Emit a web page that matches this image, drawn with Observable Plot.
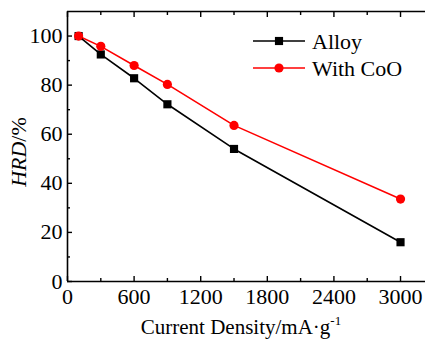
<!DOCTYPE html>
<html>
<head>
<meta charset="utf-8">
<script src="https://cdn.jsdelivr.net/npm/d3@7"></script>
<script src="https://cdn.jsdelivr.net/npm/@observablehq/plot@0.6"></script>
<style>
  html, body { margin: 0; padding: 0; background: #fff; }
  #chart { position: absolute; left: 0; top: 0; width: 425px; height: 340px; overflow: hidden; }
  #chart svg text { font-family: 'Liberation Serif', 'Times New Roman', serif !important; }
</style>
</head>
<body>
<div id="chart"></div>
<script>
const currentDensity = [100, 300, 600, 900, 1500, 3000];
const alloyHRD = [100, 92.5, 82.8, 72.2, 54, 16];
const cooHRD = [100, 95.8, 88, 80.3, 63.6, 33.6];
const seriesNames = ["Alloy", "With CoO"];
const seriesColors = ["#000000", "#ff0000"];
const seriesSymbols = ["square", "circle"];
const xMajorTicks = [0, 600, 1200, 1800, 2400, 3000];
const xMinorTicks = [300, 900, 1500, 2100, 2700];
const yMajorTicks = [0, 20, 40, 60, 80, 100];
const yMinorTicks = [10, 30, 50, 70, 90];
const xDomain = [0, 3225];
const yDomain = [0, 110];

const rows = [];
currentDensity.forEach((x, i) => {
  rows.push({x, y: alloyHRD[i], s: seriesNames[0]});
});
currentDensity.forEach((x, i) => {
  rows.push({x, y: cooHRD[i], s: seriesNames[1]});
});

const font = "'Liberation Serif', 'Times New Roman', serif";
const noLabel = () => "";

const plot = Plot.plot({
  width: 425,
  height: 340,
  marginLeft: 67,
  marginRight: 0,
  marginTop: 11,
  marginBottom: 59,
  style: "font-family: 'Liberation Serif', serif; font-size: 22px; color: black; background: white; overflow: visible;",
  x: {domain: xDomain},
  y: {domain: yDomain},
  color: {domain: seriesNames, range: seriesColors},
  symbol: {domain: seriesNames, range: seriesSymbols},
  marks: [
    Plot.ruleY([yDomain[0]], {stroke: "black", strokeWidth: 1.6}),
    Plot.ruleY([yDomain[1]], {stroke: "black", strokeWidth: 1.6}),
    Plot.ruleX([xDomain[0]], {stroke: "black", strokeWidth: 1.6}),
    Plot.axisX(xMajorTicks, {anchor: "bottom", tickSize: -5, tickPadding: 12, strokeWidth: 1.4, fontSize: 22, tickFormat: d => String(d), label: null}),
    Plot.axisX(xMinorTicks, {anchor: "bottom", tickSize: -3, strokeWidth: 1.4, tickFormat: noLabel, label: null}),
    Plot.axisX(xMajorTicks, {anchor: "top", tickSize: -5, strokeWidth: 1.4, tickFormat: noLabel, label: null}),
    Plot.axisX(xMinorTicks, {anchor: "top", tickSize: -3, strokeWidth: 1.4, tickFormat: noLabel, label: null}),
    Plot.axisY(yMajorTicks, {anchor: "left", tickSize: -5, tickPadding: 10, strokeWidth: 1.4, fontSize: 22, tickFormat: d => String(d), label: null}),
    Plot.axisY(yMinorTicks, {anchor: "left", tickSize: -3, strokeWidth: 1.4, tickFormat: noLabel, label: null}),
    Plot.line(rows, {x: "x", y: "y", z: "s", stroke: "s", strokeWidth: 1.6}),
    Plot.dot(rows, {x: "x", y: "y", symbol: "s", fill: "s", stroke: "none", r: 4.6})
  ]
});

document.getElementById("chart").appendChild(plot);

const svg = d3.select(plot);

// x-axis title with superscript
const xt = svg.append("text")
  .attr("x", 241).attr("y", 334)
  .attr("text-anchor", "middle")
  .attr("font-size", 21).attr("fill", "black");
xt.append("tspan").text("Current Density/mA\u00B7g");
xt.append("tspan").attr("font-size", 13).attr("dy", -9).text("-1");

// y-axis title rotated
const yt = svg.append("text")
  .attr("transform", "translate(26,152) rotate(-90)")
  .attr("text-anchor", "middle")
  .attr("font-size", 22).attr("fill", "black");
yt.append("tspan").attr("font-style", "italic").text("HRD");
yt.append("tspan").text("/%");

// legend
const legendY = [41, 68];
seriesNames.forEach((name, i) => {
  const g = svg.append("g");
  g.append("line").attr("x1", 253).attr("x2", 305).attr("y1", legendY[i]).attr("y2", legendY[i])
    .attr("stroke", seriesColors[i]).attr("stroke-width", 1.6);
  g.append("path")
    .attr("transform", `translate(279,${legendY[i]})`)
    .attr("d", d3.symbol(seriesSymbols[i] === "square" ? d3.symbolSquare : d3.symbolCircle, Math.PI * 4.6 * 4.6)())
    .attr("fill", seriesColors[i]);
  g.append("text").attr("x", 312).attr("y", legendY[i]).attr("dy", "0.35em")
    .attr("text-anchor", "start")
    .attr("font-size", 22).attr("fill", "black").text(name);
});
</script>
</body>
</html>
